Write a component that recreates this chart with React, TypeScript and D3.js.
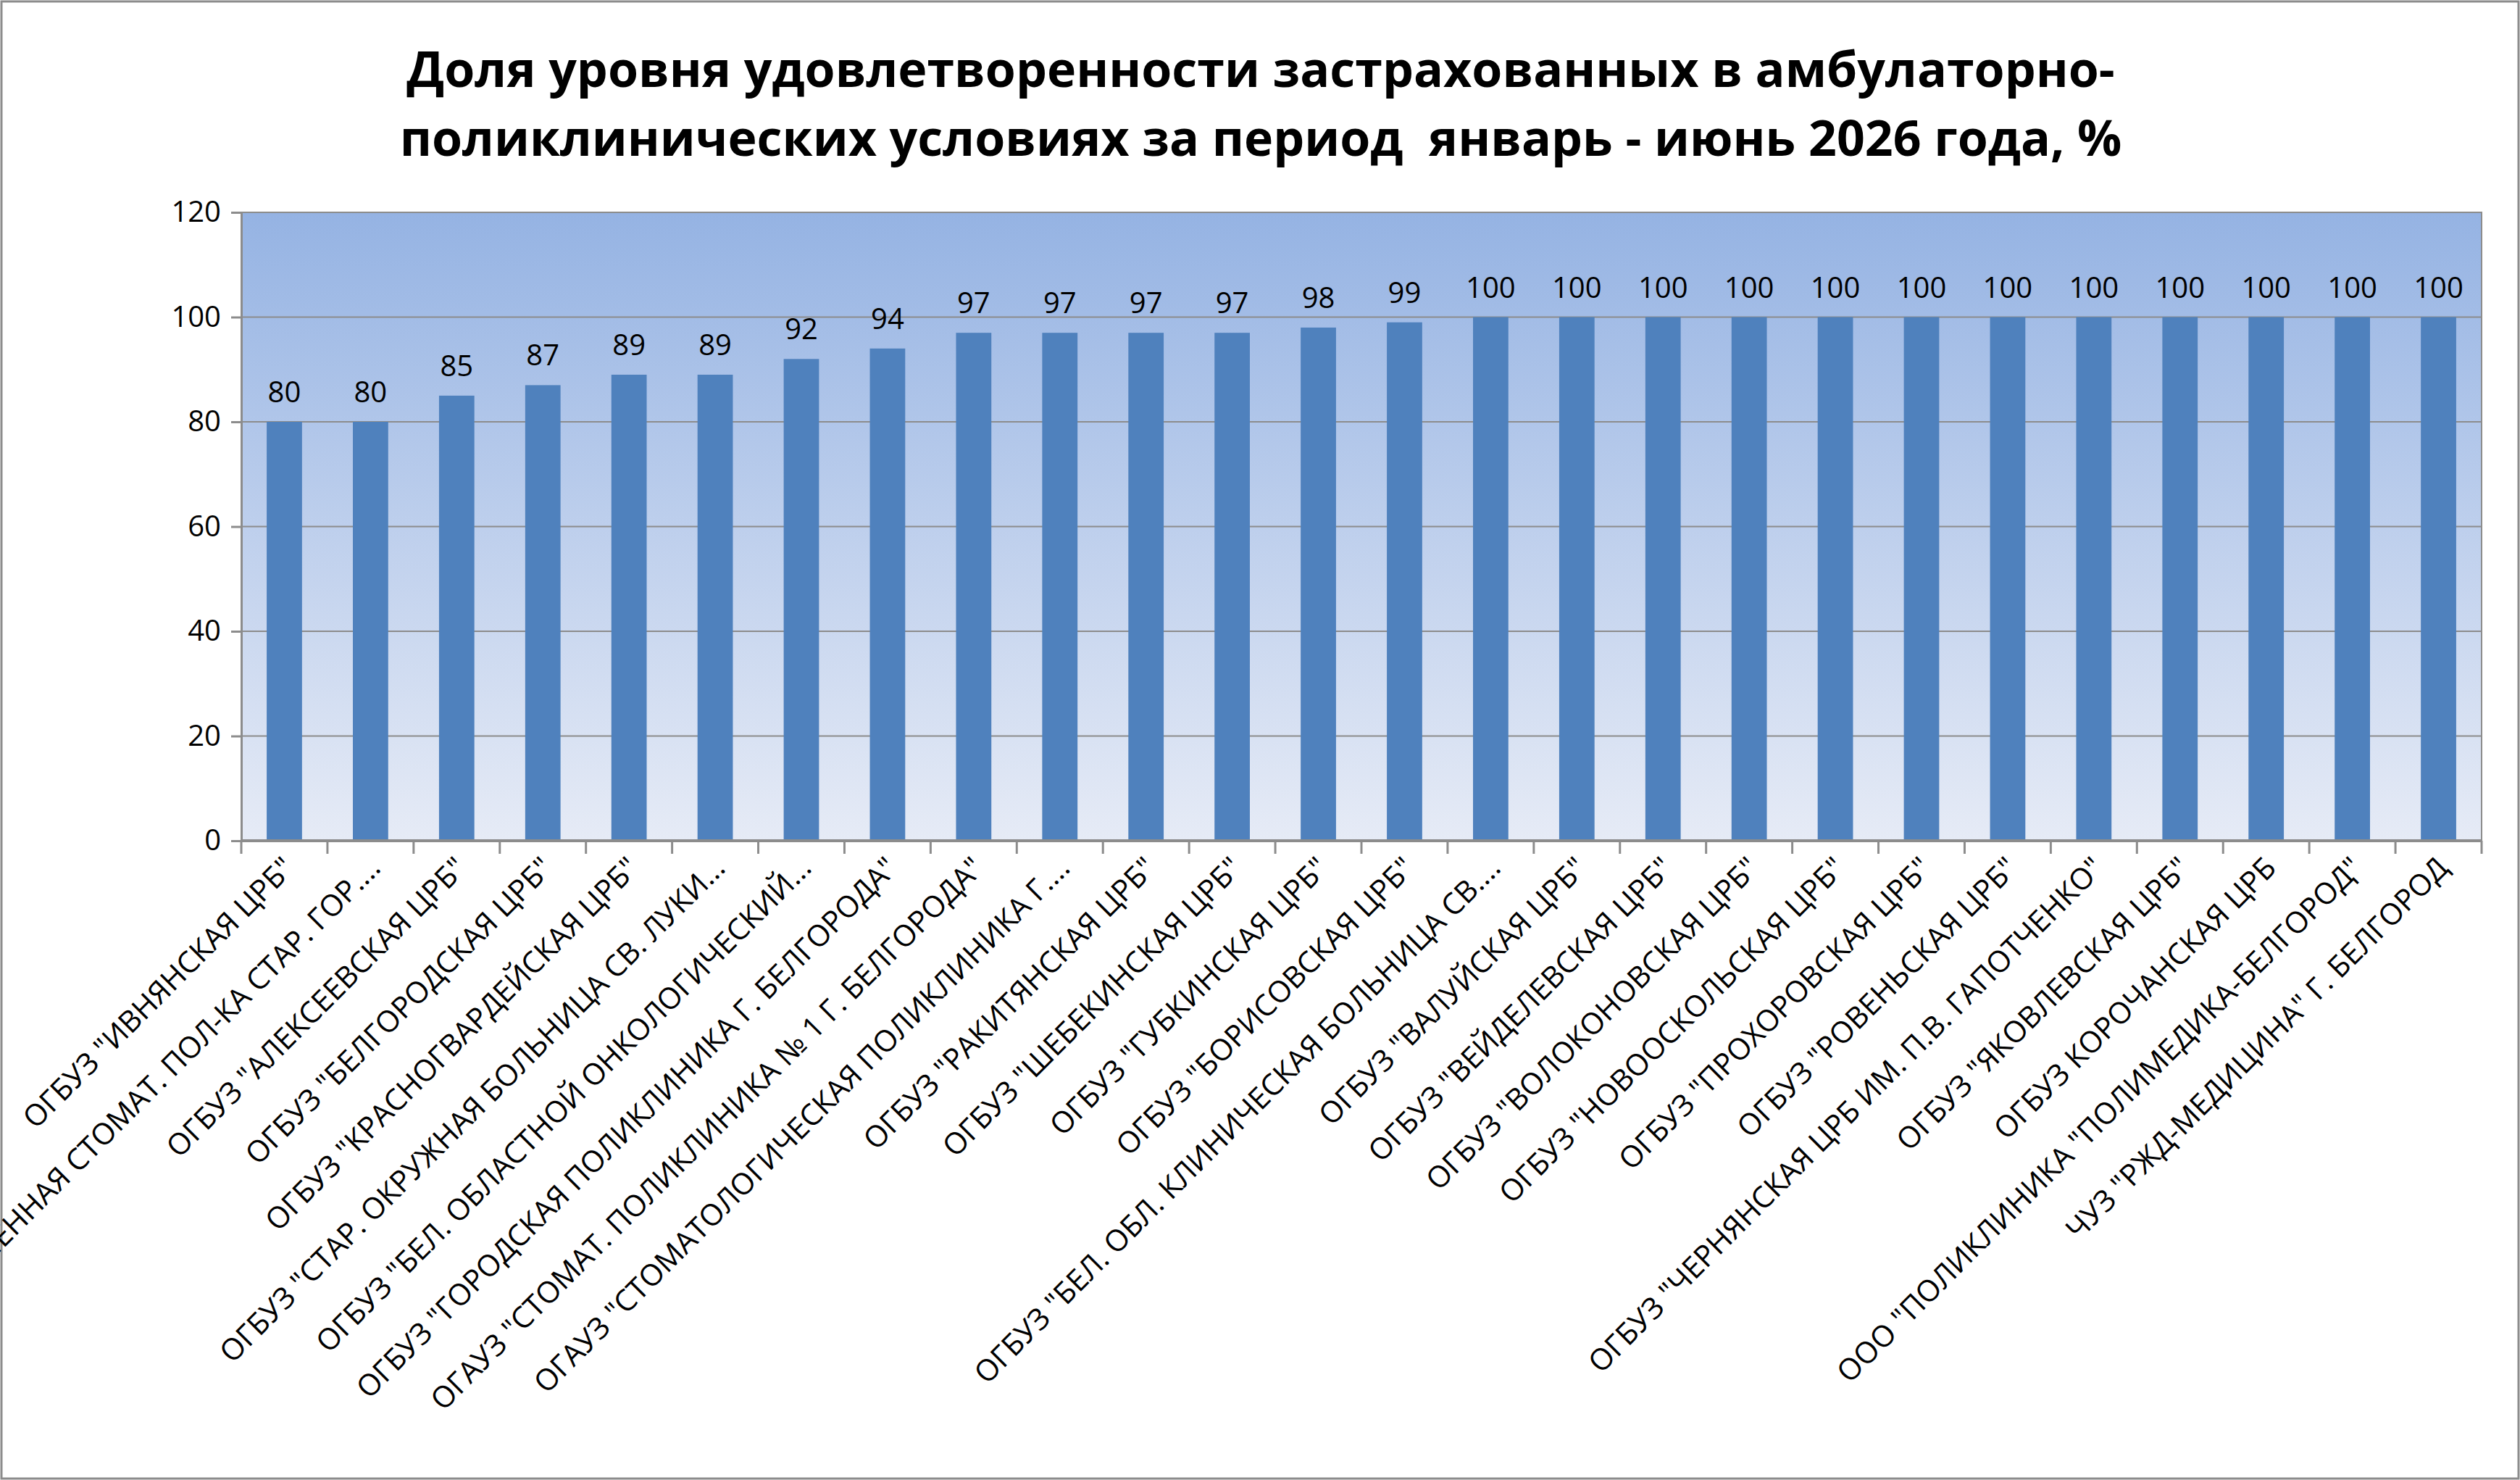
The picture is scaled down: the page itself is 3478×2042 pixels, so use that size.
import React, { useRef, useEffect } from 'react';
import * as d3 from 'd3';

// категории (медицинские организации)
const categories: string[] = [
  'ОГБУЗ "ИВНЯНСКАЯ ЦРБ"',
  'ОГАУЗ "ОБЪЕДИНЕННАЯ СТОМАТ. ПОЛ-КА СТАР. ГОР....',
  'ОГБУЗ "АЛЕКСЕЕВСКАЯ ЦРБ"',
  'ОГБУЗ "БЕЛГОРОДСКАЯ ЦРБ"',
  'ОГБУЗ "КРАСНОГВАРДЕЙСКАЯ ЦРБ"',
  'ОГБУЗ "СТАР. ОКРУЖНАЯ БОЛЬНИЦА СВ. ЛУКИ...',
  'ОГБУЗ "БЕЛ. ОБЛАСТНОЙ ОНКОЛОГИЧЕСКИЙ...',
  'ОГБУЗ "ГОРОДСКАЯ ПОЛИКЛИНИКА Г. БЕЛГОРОДА"',
  'ОГАУЗ "СТОМАТ. ПОЛИКЛИНИКА № 1 Г. БЕЛГОРОДА"',
  'ОГАУЗ "СТОМАТОЛОГИЧЕСКАЯ ПОЛИКЛИНИКА Г....',
  'ОГБУЗ "РАКИТЯНСКАЯ ЦРБ"',
  'ОГБУЗ "ШЕБЕКИНСКАЯ ЦРБ"',
  'ОГБУЗ "ГУБКИНСКАЯ ЦРБ"',
  'ОГБУЗ "БОРИСОВСКАЯ ЦРБ"',
  'ОГБУЗ "БЕЛ. ОБЛ. КЛИНИЧЕСКАЯ БОЛЬНИЦА СВ....',
  'ОГБУЗ "ВАЛУЙСКАЯ ЦРБ"',
  'ОГБУЗ "ВЕЙДЕЛЕВСКАЯ ЦРБ"',
  'ОГБУЗ "ВОЛОКОНОВСКАЯ ЦРБ"',
  'ОГБУЗ "НОВООСКОЛЬСКАЯ ЦРБ"',
  'ОГБУЗ "ПРОХОРОВСКАЯ ЦРБ"',
  'ОГБУЗ "РОВЕНЬСКАЯ ЦРБ"',
  'ОГБУЗ "ЧЕРНЯНСКАЯ ЦРБ ИМ. П.В. ГАПОТЧЕНКО"',
  'ОГБУЗ "ЯКОВЛЕВСКАЯ ЦРБ"',
  'ОГБУЗ КОРОЧАНСКАЯ ЦРБ',
  'ООО "ПОЛИКЛИНИКА "ПОЛИМЕДИКА-БЕЛГОРОД"',
  'ЧУЗ "РЖД-МЕДИЦИНА" Г. БЕЛГОРОД',
];

const values: number[] = [
  80, 80, 85, 87, 89, 89, 92, 94, 97, 97, 97, 97, 98, 99,
  100, 100, 100, 100, 100, 100, 100, 100, 100, 100, 100, 100,
];

const yTicks: number[] = [0, 20, 40, 60, 80, 100, 120];

const titleLines: string[] = [
  'Доля уровня удовлетворенности застрахованных в амбулаторно-',
  'поликлинических условиях за период  январь - июнь 2026 года, %',
];

const width = 3478;
const height = 2042;
const marginTop = 293;
const marginRight = 53;
const marginBottom = 882;
const marginLeft = 333;
const font = '"Open Sans", "DejaVu Sans", sans-serif';

const App: React.FC = () => {
  const svgRef = useRef<SVGSVGElement>(null);

  useEffect(() => {
    document.body.style.margin = '0';
    if (!svgRef.current) return;
    const svg = d3.select(svgRef.current);
    svg.selectAll('*').remove();

    const x = d3.scaleBand<string>()
      .domain(categories)
      .range([marginLeft, width - marginRight])
      .paddingInner(0.59)
      .paddingOuter(0.295);

    const y = d3.scaleLinear()
      .domain([0, 120])
      .range([height - marginBottom, marginTop]);

    // рамка диаграммы
    svg.append('rect')
      .attr('x', 2).attr('y', 2)
      .attr('width', width - 4).attr('height', height - 4)
      .attr('fill', 'white')
      .attr('stroke', '#8c8c8c')
      .attr('stroke-width', 3);

    // градиент фона
    const grad = svg.append('defs').append('linearGradient')
      .attr('id', 'bg').attr('x1', 0).attr('y1', 0).attr('x2', 0).attr('y2', 1);
    grad.append('stop').attr('offset', '0%').attr('stop-color', '#95b3e3');
    grad.append('stop').attr('offset', '100%').attr('stop-color', '#e6ebf6');

    svg.append('rect')
      .attr('x', marginLeft).attr('y', marginTop)
      .attr('width', width - marginLeft - marginRight)
      .attr('height', height - marginTop - marginBottom)
      .attr('fill', 'url(#bg)')
      .attr('stroke', '#8c8c8c')
      .attr('stroke-width', 2);

    // сетка
    svg.append('g')
      .selectAll('line')
      .data(yTicks)
      .join('line')
      .attr('x1', marginLeft).attr('x2', width - marginRight)
      .attr('y1', (d) => y(d)).attr('y2', (d) => y(d))
      .attr('stroke', '#8c8c8c')
      .attr('stroke-width', 2);

    // столбцы
    svg.append('g')
      .selectAll('rect')
      .data(values)
      .join('rect')
      .attr('x', (_, i) => x(categories[i])!)
      .attr('y', (d) => y(d))
      .attr('width', x.bandwidth())
      .attr('height', (d) => y(0) - y(d))
      .attr('fill', '#4f81bd');

    // подписи значений
    svg.append('g')
      .selectAll('text')
      .data(values)
      .join('text')
      .attr('x', (_, i) => x(categories[i])! + x.bandwidth() / 2)
      .attr('y', (d) => y(d) - 27)
      .attr('text-anchor', 'middle')
      .attr('font-family', font)
      .attr('font-size', 40)
      .text((d) => d);

    // ось Y
    const yAxis = svg.append('g')
      .attr('transform', `translate(${marginLeft},0)`)
      .call(d3.axisLeft(y).tickValues(yTicks).tickSize(14).tickPadding(14));
    yAxis.select('.domain').attr('stroke', '#8c8c8c').attr('stroke-width', 3);
    yAxis.selectAll('line').attr('stroke', '#8c8c8c').attr('stroke-width', 3);
    yAxis.selectAll('text').attr('font-family', font).attr('font-size', 40).attr('fill', 'black');

    // ось X
    const step = x.step();
    const y0 = y(0);
    svg.append('line')
      .attr('x1', marginLeft).attr('x2', width - marginRight)
      .attr('y1', y0).attr('y2', y0)
      .attr('stroke', '#8c8c8c').attr('stroke-width', 4);
    svg.append('g')
      .selectAll('line')
      .data(d3.range(categories.length + 1))
      .join('line')
      .attr('x1', (i) => marginLeft + i * step)
      .attr('x2', (i) => marginLeft + i * step)
      .attr('y1', y0).attr('y2', y0 + 18)
      .attr('stroke', '#8c8c8c').attr('stroke-width', 3);

    svg.append('g')
      .selectAll('text')
      .data(categories)
      .join('text')
      .attr('transform', (d) => `translate(${x(d)! + x.bandwidth() / 2 + 16},${y0 + 40}) rotate(-45)`)
      .attr('text-anchor', 'end')
      .attr('font-family', font)
      .attr('font-size', 41)
      .text((d) => d);

    // заголовок
    svg.append('g')
      .selectAll('text')
      .data(titleLines)
      .join('text')
      .attr('x', 1740)
      .attr('y', (_, i) => 120 + i * 95)
      .attr('text-anchor', 'middle')
      .attr('font-family', font)
      .attr('font-weight', 'bold')
      .attr('font-size', 68)
      .style('white-space', 'pre')
      .text((d) => d);
  }, []);

  return <svg ref={svgRef} width={width} height={height} style={{ display: 'block' }} />;
};

export default App;
